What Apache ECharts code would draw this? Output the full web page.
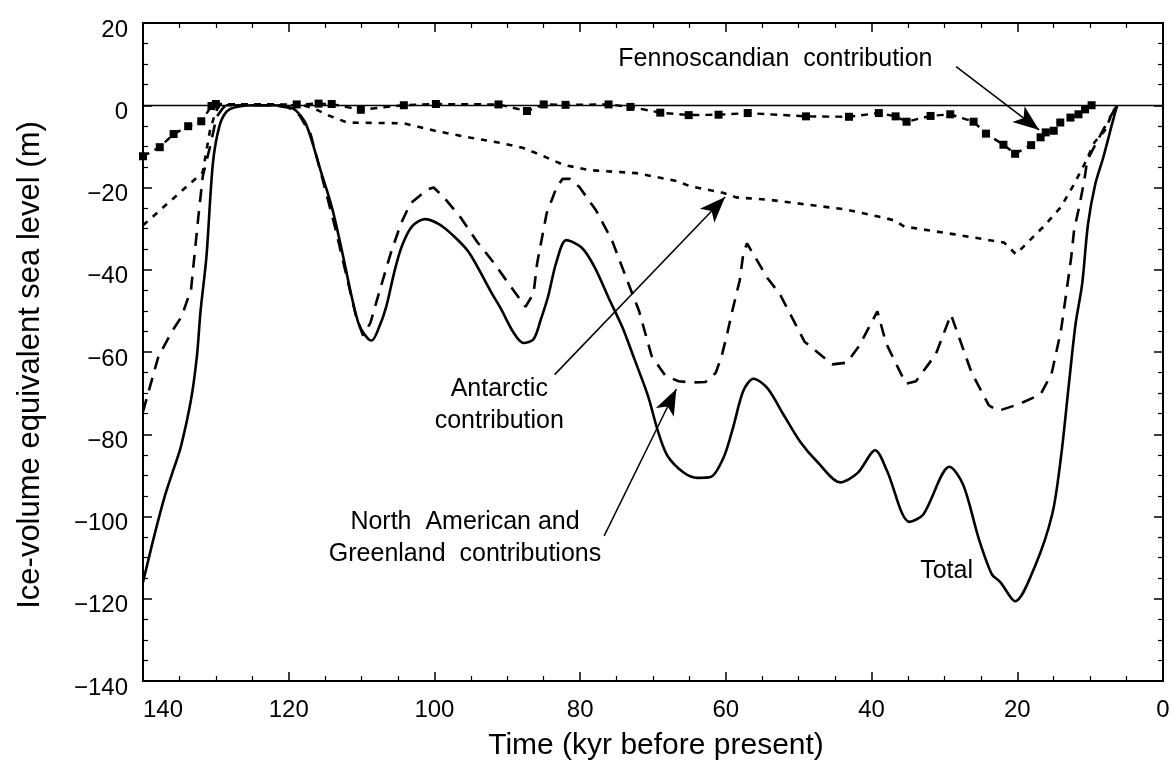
<!DOCTYPE html>
<html><head><meta charset="utf-8">
<script src="https://cdn.jsdelivr.net/npm/echarts@6/dist/echarts.min.js"></script>
<style>html,body{margin:0;padding:0;background:#fff}#c{width:1176px;height:772px}</style>
</head><body><div id="c"></div>
<script>
// [time (kyr before present), ice-volume equivalent sea level (m)]
const totalData = [[140,-116],[138.5,-105],[137,-95],[135.8,-88.5],[134.8,-83],[133.4,-71.5],[132.6,-61],[132.1,-50],[131.3,-37],[130.4,-14],[129.5,-5],[128.5,-1.5],[127.2,-0.4],[125,0],[122,0],[120,-0.5],[119,-1.3],[117.6,-4.7],[115.6,-16],[114,-25.3],[112.5,-37],[111.3,-47],[110.3,-53.6],[109.1,-56.8],[108.6,-57.2],[107.6,-54],[106.6,-48.9],[105.5,-40.5],[104.5,-34.4],[103.1,-29.5],[101.3,-27.7],[99.4,-28.9],[97.6,-31.4],[95.3,-35.7],[92.2,-45.5],[90.9,-49.4],[89.1,-55.4],[87.8,-57.8],[86.4,-56.9],[85.4,-52.1],[84.4,-46.5],[83.3,-38.4],[81.9,-32.8],[79.8,-34.6],[78,-39.4],[76.1,-46.8],[74.2,-54],[72.6,-61.5],[70.7,-70.6],[69.3,-79.4],[68,-85.3],[65.8,-89.3],[63.9,-90.6],[62.1,-90.4],[60.3,-85.6],[59,-78.3],[57.6,-69.4],[56.2,-66.5],[54.3,-68.8],[52.1,-75.2],[49.8,-81.8],[47.4,-86.8],[44.3,-91.7],[41.9,-89.4],[39.5,-83.9],[37.9,-88.8],[34.8,-101.3],[32.9,-99.5],[29.3,-87.9],[27.4,-92.4],[25.3,-105.3],[23.5,-114],[22.3,-116],[20.3,-120.6],[17.6,-112.2],[15.2,-99.4],[14,-85.5],[13,-69.2],[12,-53.2],[11.1,-43.5],[10.3,-29],[9.3,-19.2],[8.2,-12.7],[7,-4.6],[6.3,0]];
const northAmericaGreenlandData = [[140,-74.5],[137.9,-61.2],[136.1,-55.2],[134.7,-51.4],[133.4,-44.7],[132.4,-27.1],[131.8,-17.3],[130.8,-10.1],[129.9,-2.8],[128.9,-0.4],[127,0],[122,0],[120,-0.6],[118.5,-2.5],[117,-7],[115.5,-17],[113.7,-29.2],[112,-42],[110.8,-51],[109.8,-56],[108.8,-53],[107.5,-45],[106,-36],[104.6,-28.8],[103.3,-23.9],[100.9,-20.4],[100.1,-20],[98.7,-22.4],[96.4,-27.3],[94.1,-33.3],[91.9,-38.2],[89.6,-43.9],[87.5,-49],[86.4,-45.8],[85.9,-38.4],[84.6,-26.3],[83.2,-19.8],[82.4,-17.9],[81.4,-17.9],[80.1,-19.9],[77.8,-25.6],[75.6,-33],[73.3,-43.7],[71.9,-50.1],[70.2,-60.9],[68.3,-65.8],[66.5,-67.1],[64.7,-67.4],[62.8,-67.3],[61.4,-65.1],[60.6,-61.2],[59.8,-55.4],[59.1,-49.9],[58.1,-42.6],[57.6,-36],[57.1,-33.6],[55.7,-37.8],[54.3,-42],[52.6,-45.9],[49.2,-57.5],[45.4,-63],[43.4,-62.6],[41.7,-58.5],[39.2,-50.1],[38,-57.9],[35.3,-67.7],[33.9,-67.1],[31.2,-60.6],[29.1,-50.9],[26.3,-64.9],[23.9,-73],[22.6,-74.3],[19.8,-72.7],[16.8,-70.3],[15.3,-65.3],[14.7,-60.5],[14,-54.7],[13.3,-46],[12.6,-37],[12.2,-30.3],[11.5,-24.7],[10.8,-18.2],[10.4,-13.4],[8.4,-6.6],[7.3,-3],[6.3,0]];
const antarcticData = [[140,-29.2],[131.8,-16.3],[130.8,-6],[130,-1.5],[129.5,0],[118,0],[116.5,-0.8],[114.5,-2.5],[112,-4.2],[104.2,-4.4],[99.7,-6.3],[95,-7.9],[90.5,-9.3],[87.8,-10.4],[85,-12.4],[82.3,-14.5],[78.6,-15.8],[72.3,-16.5],[66.8,-18.4],[64.9,-19.7],[60.4,-21.3],[58.6,-22.4],[54,-23],[49.5,-24],[43.7,-25.3],[38,-27.5],[36.9,-28],[35.5,-29.5],[28.6,-31.4],[21.8,-33.4],[20.2,-36.2],[19.1,-34.3],[16.4,-29.5],[14,-24.7],[12.3,-19.5],[10.8,-14.4],[9.4,-9],[8,-6.2],[6.8,-1.3],[6.1,0]];
const fennoscandianData = [[140,-12.4],[137.7,-10.2],[135.8,-7],[133.8,-5.1],[132,-3.9],[130.6,-0.2],[130,0.3],[118.9,0.2],[115.9,0.4],[114.1,0.3],[110.1,-1.1],[104.2,0],[99.8,0.3],[91.2,0.2],[87.3,-1.4],[85,0.2],[82,0.1],[76.1,0.2],[73.1,-0.4],[69,-1.8],[65.1,-2.4],[61,-2.3],[57,-1.9],[49,-2.7],[43.1,-2.8],[39,-1.9],[36.7,-2.7],[35.2,-4],[31.9,-2.6],[29.2,-2.2],[26,-4],[24.3,-6.9],[21.9,-9.6],[20.3,-11.8],[18.1,-9.7],[16.8,-7.8],[16.1,-6.6],[15,-6.2],[14.1,-4.2],[12.7,-3],[11.6,-2.2],[10.7,-1],[9.8,0]];
const xRange = [0, 140];
const yRange = [-140, 20];
const tickStep = 20;
const annotationLabels = [
  {text: 'Fennoscandian  contribution', at: [53.2, 11.3]},
  {text: 'Antarctic\ncontribution', at: [91.1, -72.8]},
  {text: 'North  American and\nGreenland  contributions', at: [95.8, -105.3]},
  {text: 'Total', at: [29.7, -113.4]}
];
const annotationArrows = [
  {from: [28.4, 9.4], to: [17, -6]},
  {from: [83.5, -65.5], to: [60.1, -22.3]},
  {from: [76.7, -104.7], to: [66.8, -69]}
];
const xTitle = 'Time (kyr before present)';
const yTitle = 'Ice-volume equivalent sea level (m)';

const FONT = 'Liberation Sans, Arial, Helvetica, sans-serif';
const chart = echarts.init(document.getElementById('c'), null, {renderer: 'canvas'});
const axisCommon = {
  type: 'value', interval: tickStep,
  axisLine: {show: true, onZero: false, lineStyle: {color: '#000', width: 2}},
  axisTick: {show: true, inside: true, length: 9, lineStyle: {color: '#000', width: 1.5}},
  minorTick: {show: true, splitNumber: 4, length: 5, lineStyle: {color: '#000', width: 1.2}},
  splitLine: {show: false}, minorSplitLine: {show: false}
};
const fmtY = v => v < 0 ? '\u2212' + Math.abs(v) : String(v);

chart.setOption({
  backgroundColor: '#fff',
  animation: false,
  grid: {left: 143, right: 13, top: 23, bottom: 91},
  xAxis: [
    Object.assign({}, axisCommon, {min: xRange[0], max: xRange[1], inverse: true, position: 'bottom',
      axisLabel: {show: true, margin: 17, fontSize: 24, color: '#000', fontFamily: FONT, alignMaxLabel: 'left'}}),
    Object.assign({}, axisCommon, {min: xRange[0], max: xRange[1], inverse: true, position: 'top',
      axisLabel: {show: false}})
  ],
  yAxis: [
    Object.assign({}, axisCommon, {min: yRange[0], max: yRange[1], position: 'left',
      axisLabel: {show: true, margin: 15, fontSize: 24, color: '#000', fontFamily: FONT, formatter: fmtY,
        verticalAlign: 'top', lineHeight: 14}}),
    Object.assign({}, axisCommon, {min: yRange[0], max: yRange[1], position: 'right',
      axisLabel: {show: false}})
  ],
  graphic: [
    {type: 'text', x: 30, y: 365, rotation: Math.PI / 2, z: 10,
      style: {text: yTitle, fontSize: 31, fontFamily: FONT, fill: '#000', align: 'center', verticalAlign: 'middle'}},
    {type: 'text', x: 656, y: 746, z: 10,
      style: {text: xTitle, fontSize: 30, fontFamily: FONT, fill: '#000', align: 'center', verticalAlign: 'middle'}}
  ],
  series: [
    {name: 'Total', type: 'line', data: totalData, smooth: 0.3, showSymbol: false, z: 5,
      lineStyle: {color: '#000', width: 2.6},
      markLine: {silent: true, symbol: 'none', animation: false, label: {show: false},
        lineStyle: {color: '#000', width: 1.4, type: 'solid'}, data: [{yAxis: 0}]}},
    {name: 'North American and Greenland', type: 'line', data: northAmericaGreenlandData, showSymbol: false, z: 4,
      lineStyle: {color: '#000', width: 2.6, type: [13, 9]}},
    {name: 'Antarctic', type: 'line', data: antarcticData, showSymbol: false, z: 4,
      lineStyle: {color: '#000', width: 2.6, type: [6, 7]},
      markLine: {silent: true, animation: false, label: {show: false},
        lineStyle: {color: '#000', width: 1.5, type: 'solid'},
        data: annotationArrows.map(a => [
          {coord: a.from, symbol: 'none'},
          {coord: a.to, symbol: 'arrow', symbolSize: [15, 26]}
        ])},
      markPoint: {silent: true, animation: false, symbol: 'circle', symbolSize: 1,
        itemStyle: {color: 'rgba(0,0,0,0)'},
        label: {show: true, position: 'inside', color: '#000', fontSize: 25, fontFamily: FONT,
          lineHeight: 32, align: 'center', formatter: p => p.name},
        data: annotationLabels.map(l => ({name: l.text, coord: l.at}))}},
    {name: 'Fennoscandian', type: 'line', data: fennoscandianData, showSymbol: true, symbol: 'rect', symbolSize: 8, z: 6,
      itemStyle: {color: '#000'},
      lineStyle: {color: '#000', width: 2.4, type: [7, 6]}}
  ]
});
</script></body></html>
